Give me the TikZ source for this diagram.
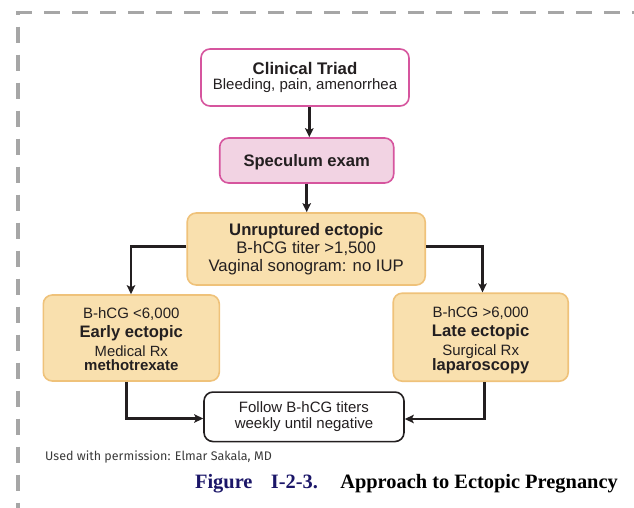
\documentclass[tikz,border=0pt]{standalone}
\usepackage{fontspec}
\setmainfont{Liberation Serif}
\setsansfont{Liberation Sans}
\newfontfamily\permfont{Fira Sans}
\usetikzlibrary{arrows.meta}
\definecolor{pinkline}{HTML}{D6559E}
\definecolor{pinkfill}{HTML}{F2D3E3}
\definecolor{orfill}{HTML}{F9E0AE}
\definecolor{orline}{HTML}{EFC27A}
\definecolor{dashgray}{HTML}{A6A6A6}
\definecolor{navy}{HTML}{1B1668}
\definecolor{txt}{HTML}{231F20}
\definecolor{permgray}{HTML}{3A3A3A}
\tikzset{
  box/.style={rounded corners=9pt, line width=1.6pt, align=center, font=\sffamily, text=txt, inner sep=0pt},
  pinkbox/.style={box, draw=pinkline, fill=white},
  specbox/.style={box, draw=pinkline, fill=pinkfill},
  orbox/.style={box, draw=orline, fill=orfill},
  endbox/.style={box, draw=txt, fill=white},
  arr/.style={draw=txt, line width=2.8pt, -{Stealth[length=9pt,width=8.5pt,inset=2pt]}},
  frame/.style={draw=dashgray, line width=3.3pt, dash pattern=on 16pt off 12pt}
}
\begin{document}
\begin{tikzpicture}[x=1pt,y=-1pt]
\useasboundingbox (0,0) rectangle (634,508);
% dashed frame
\coordinate (fcorner) at (18,12.7);
\coordinate (fbottom) at (18,508);
\coordinate (fright) at (640,12.7);
\draw[frame] (fcorner) ++(-1.6,0) -- (fright);
\draw[frame, dash phase=14pt] (fcorner) -- (fbottom);
% boxes
\node[pinkbox, minimum width=208pt, minimum height=57pt,
      font=\sffamily\fontsize{15}{15}\selectfont] (triad) at (305,77.5)
  {{\fontsize{16.8}{15}\selectfont\bfseries Clinical Triad}\\Bleeding, pain, amenorrhea};
\node[specbox, minimum width=174pt, minimum height=45pt, text height=12pt, text depth=0pt,
      font=\sffamily\bfseries\fontsize{16.6}{18}\selectfont] (spec) at (306.7,160.5)
  {Speculum exam};
\node[orbox, minimum width=238pt, minimum height=72pt,
      font=\sffamily\fontsize{16.7}{18.3}\selectfont] (unr) at (306.2,249)
  {{\bfseries Unruptured ectopic}\\B-hCG titer >1,500\\Vaginal sonogram: no IUP};
\node[orbox, minimum width=176pt, minimum height=86pt,
      font=\sffamily\fontsize{15}{18.8}\selectfont] (early) at (131.3,338)
  {\rule{0pt}{13.5pt}B-hCG <6,000\\{\fontsize{16.6}{18.8}\selectfont\bfseries Early ectopic}\\{\fontsize{14.8}{18.8}\selectfont Medical Rx}\\[-4.3pt]{\bfseries methotrexate}};
\node[orbox, minimum width=175pt, minimum height=88pt,
      font=\sffamily\fontsize{15}{18.8}\selectfont] (late) at (480.7,337.2)
  {\rule{0pt}{17pt}B-hCG >6,000\\{\fontsize{16.7}{18.8}\selectfont\bfseries Late ectopic}\\[0.5pt]Surgical Rx\\[-4pt]{\fontsize{16.5}{18.8}\selectfont\bfseries laparoscopy}};
\node[endbox, minimum width=200pt, minimum height=49.5pt,
      font=\sffamily\fontsize{15}{16}\selectfont] (follow) at (304,416.8)
  {Follow B-hCG titers\\weekly until negative};
% connectors
\draw[arr] (triad.south -| 309.3,0) -- (spec.north -| 309.3,0);
\draw[arr] (spec.south -| 306.7,0) -- (unr.north -| 306.7,0);
\draw[arr] (unr.west |- 0,246.7) -| (early.north -| 131,0);
\draw[arr] (unr.east |- 0,246.7) -| (late.north -| 482.5,0);
\draw[arr] (early.south -| 126.7,0) |- (follow.west |- 0,418.5);
\draw[arr] (late.south -| 484.3,0) |- (follow.east |- 0,419);
% captions
\node[anchor=base west, font=\permfont\fontsize{12.5}{14}\selectfont, text=permgray, inner sep=0pt] (perm) at (45,460) {Used with permission: Elmar Sakala, MD};
\node[anchor=base east, font=\rmfamily\bfseries\fontsize{20.4}{22}\selectfont, inner sep=0pt] (cap) at (618,488) {\textcolor{navy}{Figure\hspace{0.9em}I-2-3.}\hspace{1.1em}Approach to Ectopic Pregnancy};
\end{tikzpicture}
\end{document}
